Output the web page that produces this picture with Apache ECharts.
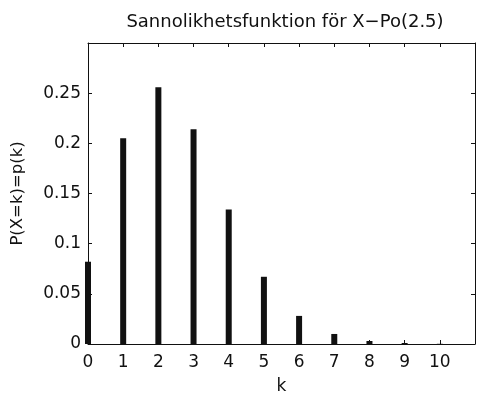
<!DOCTYPE html>
<html>
<head>
<meta charset="utf-8">
<script src="https://cdn.jsdelivr.net/npm/echarts@6/dist/echarts.min.js"></script>
<style>
  html, body { margin: 0; padding: 0; background: #fff; }
  #chart { width: 478px; height: 400px; }
</style>
</head>
<body>
<div id="chart"></div>
<script>
  // k-värden och sannolikheter
  var kValues = [0, 1, 2, 3, 4, 5, 6, 7, 8, 9, 10];
  var pValues = [0.082, 0.205, 0.256, 0.214, 0.134, 0.067, 0.028, 0.010, 0.003, 0.001, 0.0002];

  var font = 'DejaVu Sans, sans-serif';
  var black = '#111';

  var chart = echarts.init(document.getElementById('chart'));

  var tick = {
    show: true,
    inside: true,
    length: 4,
    lineStyle: { color: black, width: 1 }
  };
  var line = { show: true, onZero: false, lineStyle: { color: black, width: 1 } };

  var option = {
    animation: false,
    title: {
      text: 'Sannolikhetsfunktion för X\u2212Po(2.5)',
      left: 280,
      top: 8,
      textAlign: 'center',
      textStyle: { fontFamily: font, fontSize: 18, fontWeight: 'normal', color: black }
    },
    grid: { left: 88, right: 1, top: 43, bottom: 53 },
    xAxis: [{
      type: 'value',
      min: 0,
      max: 11,
      interval: 1,
      name: 'k',
      nameLocation: 'middle',
      nameGap: 34,
      nameTextStyle: { fontFamily: font, fontSize: 17, color: black },
      axisLine: line,
      axisTick: tick,
      splitLine: { show: false },
      axisLabel: {
        fontFamily: font, fontSize: 17, color: black, margin: 10,
        formatter: function (v) { return v > 10 ? '' : String(v); }
      }
    }, {
      type: 'value',
      position: 'top',
      min: 0,
      max: 11,
      interval: 1,
      axisLine: line,
      axisTick: tick,
      splitLine: { show: false },
      axisLabel: { show: false }
    }],
    yAxis: [{
      type: 'value',
      min: 0,
      max: 0.3,
      interval: 0.05,
      name: 'P(X=k)=p(k)',
      nameLocation: 'middle',
      nameGap: 62,
      nameTextStyle: { fontFamily: font, fontSize: 16.5, color: black },
      axisLine: line,
      axisTick: tick,
      splitLine: { show: false },
      axisLabel: {
        fontFamily: font, fontSize: 17, color: black, margin: 7,
        formatter: function (v) {
          if (v > 0.29) return '';
          return String(Math.round(v * 100) / 100);
        }
      }
    }, {
      type: 'value',
      position: 'right',
      min: 0,
      max: 0.3,
      interval: 0.05,
      axisLine: line,
      axisTick: tick,
      splitLine: { show: false },
      axisLabel: { show: false }
    }],
    series: [{
      type: 'bar',
      xAxisIndex: 0,
      yAxisIndex: 0,
      barWidth: 6,
      clip: true,
      itemStyle: { color: black },
      data: kValues.map(function (k, i) { return [k, pValues[i]]; })
    }]
  };

  chart.setOption(option);
</script>
</body>
</html>
